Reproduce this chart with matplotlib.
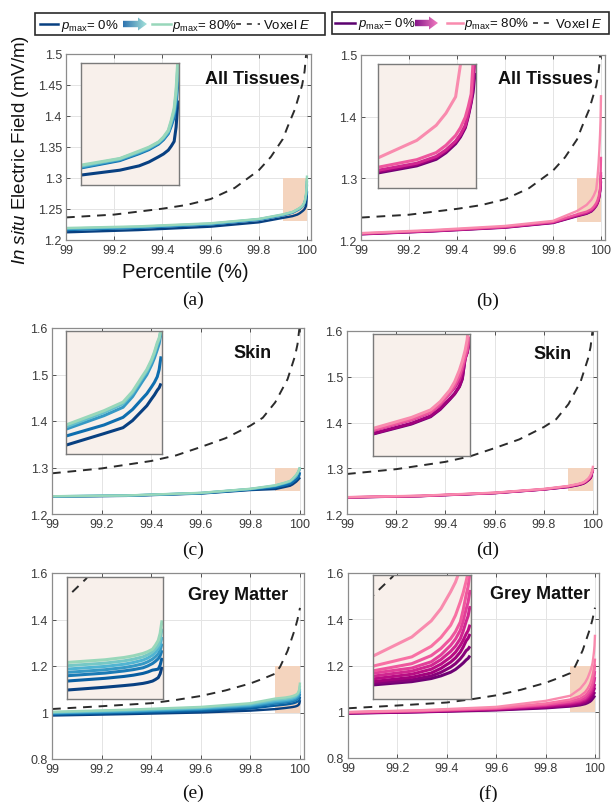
import numpy as np
import matplotlib
matplotlib.use('Agg')
import matplotlib.pyplot as plt
from matplotlib.patches import Rectangle, Polygon
from matplotlib.colors import LinearSegmentedColormap

plt.rcParams['font.family'] = ['Liberation Sans', 'DejaVu Sans']
plt.rcParams['mathtext.fontset'] = 'custom'
plt.rcParams['mathtext.rm'] = 'Liberation Sans'
plt.rcParams['mathtext.it'] = 'Liberation Sans:italic'

# ---------------- data ----------------
pct = [99.0, 99.3, 99.6, 99.8, 99.9, 99.94, 99.96, 99.97, 99.98, 99.985, 99.99, 99.993, 99.996, 99.998, 100.0]
voxel_pct = [99.0, 99.2, 99.4, 99.5, 99.6, 99.7, 99.8, 99.85, 99.9, 99.92, 99.95, 99.98, 99.99, 100.0]

voxel_all = [1.2364, 1.2410, 1.2505, 1.2565, 1.2660, 1.2840, 1.3125, 1.3340, 1.3630, 1.3830, 1.4110, 1.4500, 1.4720, 1.5150]
voxel_skin = [1.2875, 1.2980, 1.3140, 1.3260, 1.3440, 1.3630, 1.3900, 1.4070, 1.4400, 1.4600, 1.4900, 1.5400, 1.5650, 1.6100]
voxel_gm = [1.0150, 1.0270, 1.0400, 1.0540, 1.0710, 1.0950, 1.1250, 1.1450, 1.1670, 1.1970, 1.2650, 1.3600, 1.4000, 1.4500]

# series ordered p_max = 0% ... 80%
all_blue = [
    [1.2124, 1.2160, 1.2215, 1.2285, 1.2357, 1.2385, 1.2410, 1.2432, 1.2462, 1.2478, 1.2500, 1.2523, 1.2550, 1.2632, 1.2785],
    [1.2160, 1.2195, 1.2250, 1.2325, 1.2398, 1.2440, 1.2480, 1.2503, 1.2535, 1.2560, 1.2595, 1.2638, 1.2690, 1.2762, 1.2895],
    [1.2175, 1.2205, 1.2258, 1.2333, 1.2402, 1.2445, 1.2485, 1.2508, 1.2540, 1.2565, 1.2600, 1.2650, 1.2710, 1.2794, 1.2950],
    [1.2185, 1.2212, 1.2264, 1.2336, 1.2408, 1.2450, 1.2490, 1.2513, 1.2545, 1.2571, 1.2608, 1.2661, 1.2725, 1.2821, 1.3000],
    [1.2194, 1.2220, 1.2270, 1.2340, 1.2414, 1.2452, 1.2495, 1.2517, 1.2547, 1.2575, 1.2614, 1.2671, 1.2740, 1.2845, 1.3040],
]
all_pink = [
    [1.2092, 1.2140, 1.2200, 1.2275, 1.2385, 1.2425, 1.2462, 1.2499, 1.2550, 1.2588, 1.2640, 1.2703, 1.2780, 1.2840, 1.2950],
    [1.2095, 1.2143, 1.2204, 1.2280, 1.2392, 1.2432, 1.2470, 1.2507, 1.2558, 1.2596, 1.2648, 1.2712, 1.2790, 1.2881, 1.3050],
    [1.2099, 1.2147, 1.2208, 1.2286, 1.2400, 1.2440, 1.2478, 1.2515, 1.2565, 1.2603, 1.2655, 1.2720, 1.2800, 1.2905, 1.3100],
    [1.2105, 1.2153, 1.2215, 1.2295, 1.2417, 1.2460, 1.2500, 1.2541, 1.2597, 1.2640, 1.2700, 1.2759, 1.2830, 1.3012, 1.3350],
    [1.2112, 1.2162, 1.2228, 1.2310, 1.2470, 1.2569, 1.2654, 1.2722, 1.2815, 1.2998, 1.3250, 1.3453, 1.3700, 1.3928, 1.4350],
]
skin_blue = [
    [1.2375, 1.2390, 1.2440, 1.2515, 1.2536, 1.2583, 1.2607, 1.2636, 1.2676, 1.2696, 1.2724, 1.2740, 1.2759, 1.2769, 1.2787],
    [1.2378, 1.2393, 1.2445, 1.2525, 1.2573, 1.2618, 1.2649, 1.2681, 1.2724, 1.2745, 1.2773, 1.2791, 1.2814, 1.2843, 1.2897],
    [1.2380, 1.2396, 1.2450, 1.2535, 1.2601, 1.2656, 1.2690, 1.2733, 1.2793, 1.2822, 1.2862, 1.2890, 1.2924, 1.2948, 1.2993],
    [1.2381, 1.2397, 1.2452, 1.2538, 1.2610, 1.2669, 1.2704, 1.2747, 1.2807, 1.2836, 1.2876, 1.2907, 1.2945, 1.2966, 1.3004],
    [1.2382, 1.2398, 1.2455, 1.2542, 1.2618, 1.2676, 1.2711, 1.2754, 1.2814, 1.2843, 1.2883, 1.2914, 1.2952, 1.2971, 1.3007],
]
skin_pink = [
    [1.2360, 1.2390, 1.2455, 1.2535, 1.2590, 1.2631, 1.2661, 1.2691, 1.2732, 1.2754, 1.2784, 1.2815, 1.2905, 1.2924, 1.2960],
    [1.2362, 1.2392, 1.2457, 1.2537, 1.2592, 1.2634, 1.2664, 1.2694, 1.2735, 1.2756, 1.2786, 1.2820, 1.2900, 1.2923, 1.2965],
    [1.2364, 1.2394, 1.2460, 1.2540, 1.2604, 1.2648, 1.2678, 1.2711, 1.2757, 1.2780, 1.2811, 1.2851, 1.2900, 1.2926, 1.2975],
    [1.2366, 1.2396, 1.2462, 1.2543, 1.2606, 1.2650, 1.2680, 1.2714, 1.2760, 1.2789, 1.2830, 1.2866, 1.2910, 1.2938, 1.2990],
    [1.2369, 1.2400, 1.2466, 1.2548, 1.2613, 1.2658, 1.2689, 1.2723, 1.2770, 1.2804, 1.2852, 1.2889, 1.2934, 1.2976, 1.3055],
]
gm_blue = [
    [0.987, 0.993, 1.000, 1.008, 1.0147, 1.0193, 1.0220, 1.0235, 1.0256, 1.0272, 1.0294, 1.0319, 1.0350, 1.0413, 1.0529],
    [0.991, 0.998, 1.006, 1.017, 1.0294, 1.0339, 1.0370, 1.0391, 1.0420, 1.0443, 1.0474, 1.0481, 1.0490, 1.0555, 1.0676],
    [0.995, 1.002, 1.012, 1.024, 1.0381, 1.0425, 1.0460, 1.0482, 1.0512, 1.0542, 1.0583, 1.0618, 1.0660, 1.0709, 1.0800],
    [0.997, 1.004, 1.015, 1.028, 1.0436, 1.0480, 1.0515, 1.0541, 1.0578, 1.0610, 1.0654, 1.0693, 1.0740, 1.0800, 1.0910],
    [0.999, 1.007, 1.018, 1.032, 1.0490, 1.0534, 1.0570, 1.0599, 1.0638, 1.0672, 1.0720, 1.0765, 1.0820, 1.0890, 1.1019],
    [1.001, 1.010, 1.021, 1.036, 1.0545, 1.0588, 1.0625, 1.0653, 1.0692, 1.0726, 1.0774, 1.0822, 1.0880, 1.0976, 1.1155],
    [1.003, 1.012, 1.024, 1.040, 1.0599, 1.0643, 1.0680, 1.0708, 1.0747, 1.0776, 1.0817, 1.0881, 1.0960, 1.1076, 1.1290],
]
gm_pink = [
    [0.992, 0.998, 1.006, 1.015, 1.0227, 1.0280, 1.0330, 1.0373, 1.0432, 1.0477, 1.0540, 1.0581, 1.0630, 1.0655, 1.0700],
    [0.993, 0.999, 1.008, 1.018, 1.0254, 1.0310, 1.0370, 1.0430, 1.0514, 1.0571, 1.0649, 1.0708, 1.0780, 1.0805, 1.0850],
    [0.994, 1.000, 1.009, 1.020, 1.0281, 1.0350, 1.0420, 1.0494, 1.0595, 1.0663, 1.0757, 1.0839, 1.0940, 1.0979, 1.1050],
    [0.995, 1.001, 1.011, 1.023, 1.0324, 1.0400, 1.0480, 1.0562, 1.0676, 1.0755, 1.0865, 1.0948, 1.1050, 1.1103, 1.1200],
    [0.996, 1.002, 1.012, 1.026, 1.0368, 1.0450, 1.0540, 1.0636, 1.0768, 1.0854, 1.0973, 1.1098, 1.1250, 1.1338, 1.1500],
    [0.997, 1.003, 1.014, 1.029, 1.0416, 1.0500, 1.0600, 1.0711, 1.0865, 1.0967, 1.1108, 1.1262, 1.1450, 1.1559, 1.1760],
    [0.997, 1.004, 1.015, 1.031, 1.0454, 1.0570, 1.0700, 1.0815, 1.0973, 1.1086, 1.1243, 1.1440, 1.1680, 1.1810, 1.2050],
    [0.998, 1.005, 1.017, 1.036, 1.0530, 1.0680, 1.0850, 1.0993, 1.1190, 1.1349, 1.1568, 1.1717, 1.1900, 1.2040, 1.2300],
    [0.999, 1.007, 1.021, 1.047, 1.0692, 1.1000, 1.1260, 1.1457, 1.1730, 1.1885, 1.2100, 1.2325, 1.2600, 1.2856, 1.3330],
]

xticks = [99, 99.2, 99.4, 99.6, 99.8, 100]
xticklabels = ['99', '99.2', '99.4', '99.6', '99.8', '100']
yticks_a = [1.2, 1.25, 1.3, 1.35, 1.4, 1.45, 1.5]
yticks_b = [1.2, 1.3, 1.4, 1.5]
yticks_skin = [1.2, 1.3, 1.4, 1.5, 1.6]
yticks_gm = [0.8, 1.0, 1.2, 1.4, 1.6]

# ---------------- figure ----------------
W, H = 611, 803
fig = plt.figure(figsize=(W / 100, H / 100), dpi=100)


def fax(x0, y0, x1, y1):
    return [x0 / W, 1 - y1 / H, (x1 - x0) / W, (y1 - y0) / H]


blue_cmap = plt.get_cmap('GnBu')
pink_cmap = plt.get_cmap('RdPu')


def colors_for(cmap, n, hi, lo):
    return [cmap(v) for v in np.linspace(hi, lo, n)]


def ylab(v):
    return ('%.2f' % v).rstrip('0').rstrip('.')


def panel(main_box, inset_box, series, cols, voxel, yticks, ylim, zoom_y, title, title_px):
    ax = fig.add_axes(fax(*main_box))
    ax.set_xlim(99, 100.015)
    ax.set_ylim(*ylim)
    ax.set_xticks(xticks)
    ax.set_xticklabels(xticklabels)
    ax.set_yticks(yticks)
    ax.set_yticklabels([ylab(v) for v in yticks])
    ax.grid(True, color='#e4e4e4', lw=0.7)
    ax.set_axisbelow(True)
    ax.tick_params(direction='in', length=3, top=True, right=True, labelsize=9,
                   colors='#3a3a3a', width=0.6, pad=3)
    for s in ax.spines.values():
        s.set_color('#8c8c8c')
        s.set_linewidth(0.9)
    ax.add_patch(Rectangle((99.9, zoom_y[0]), 0.1, zoom_y[1] - zoom_y[0],
                           fc='#f4d4be', ec='none', zorder=1.5))
    for ser, c in zip(series, cols):
        ax.plot(pct, ser, color=c, lw=1.7, zorder=2, solid_capstyle='butt')
    ax.plot(voxel_pct, voxel, color='#2b2b2b', lw=1.4, ls=(0, (4.5, 3.5)), zorder=2.5)
    x0, y0, w, h = ax.get_position().bounds
    tpos = ((title_px[0] / W - x0) / w, ((1 - title_px[1] / H) - y0) / h)
    ax.text(tpos[0], tpos[1], title, transform=ax.transAxes, ha='right', va='center',
            fontsize=13, fontweight='bold', color='#111111', zorder=1.8)

    ins = fig.add_axes(fax(*inset_box))
    ins.set_facecolor('#f8f0eb')
    ins.set_xlim(99.9, 100.001)
    ins.set_ylim(*zoom_y)
    ins.set_xticks([])
    ins.set_yticks([])
    for s in ins.spines.values():
        s.set_color('#7a7a7a')
        s.set_linewidth(1.0)
    for ser, c in zip(series, cols):
        ins.plot(pct, ser, color=c, lw=2.2, solid_capstyle='butt', solid_joinstyle='round')
    ins.plot(voxel_pct, voxel, color='#2b2b2b', lw=1.4, ls=(0, (4.5, 3.5)))
    return ax


panel((66, 55, 310.6, 241), (81, 64, 179, 186), all_blue,
      colors_for(blue_cmap, 5, 1.0, 0.42), voxel_all, yticks_a, (1.2, 1.5),
      (1.23, 1.30), 'All Tissues', (300, 79))
panel((361, 56, 604.6, 241), (378, 65, 476, 189), all_pink,
      colors_for(pink_cmap, 5, 0.9, 0.42), voxel_all, yticks_b, (1.2, 1.5),
      (1.23, 1.30), 'All Tissues', (593, 79))
panel((52, 329, 303.7, 515), (66, 332, 162, 455), skin_blue,
      colors_for(blue_cmap, 5, 1.0, 0.42), voxel_skin, yticks_skin, (1.2, 1.6),
      (1.25, 1.30), 'Skin', (272, 354))
panel((347, 332, 596.7, 515), (373, 335, 470, 457), skin_pink,
      colors_for(pink_cmap, 5, 0.9, 0.42), voxel_skin, yticks_skin, (1.2, 1.6),
      (1.25, 1.30), 'Skin', (572, 355))
panel((52, 574, 303.7, 760), (67, 578, 163, 700), gm_blue,
      colors_for(blue_cmap, 7, 1.0, 0.42), voxel_gm, yticks_gm, (0.8, 1.6),
      (1.0, 1.2), 'Grey Matter', (288, 596))
panel((348, 574, 598.7, 759), (373, 576, 471, 700), gm_pink,
      colors_for(pink_cmap, 9, 0.9, 0.42), voxel_gm, yticks_gm, (0.8, 1.6),
      (1.0, 1.2), 'Grey Matter', (590, 595))

# labels
fig.text(185 / W, 1 - 273 / H, 'Percentile (%)', ha='center', va='center', fontsize=14.5, color='#111111')
fig.text(21 / W, 1 - 150 / H, r'$\it{In\ situ}$ Electric Field (mV/m)', rotation=90,
         ha='center', va='center', fontsize=13.5, color='#111111')
for lab, px, py in [('(a)', 193, 300), ('(b)', 488, 301), ('(c)', 193, 550),
                    ('(d)', 488, 550), ('(e)', 193, 793), ('(f)', 488, 794)]:
    fig.text(px / W, 1 - py / H, lab, ha='center', va='center', fontsize=14,
             family=['Liberation Serif', 'DejaVu Serif'], color='#111111')

# ---------------- legends ----------------
lg = fig.add_axes([0, 0, 1, 1])
lg.axis('off')


def gradient_arrow(x0, x1, yc, c0, c1):
    cm_ = LinearSegmentedColormap.from_list('g', [c0, c1])
    grad = np.linspace(0, 1, 64).reshape(1, -1)
    im = lg.imshow(grad, extent=(x0, x1, yc + 7, yc - 7), cmap=cm_, aspect='auto',
                   interpolation='bilinear', zorder=3)
    hl = 9
    poly = Polygon([(x0, yc - 3.2), (x1 - hl, yc - 3.2), (x1 - hl, yc - 6.5), (x1, yc),
                    (x1 - hl, yc + 6.5), (x1 - hl, yc + 3.2), (x0, yc + 3.2)],
                   closed=True, fc='none', ec='none', transform=lg.transData)
    lg.add_patch(poly)
    im.set_clip_path(poly)


def legend_box(x0, x1, y0, y1, c_lo, c_hi, a0, a1, xs):
    yc = (y0 + y1) / 2
    lg.add_patch(Rectangle((x0, y0), x1 - x0, y1 - y0, fill=False, ec='#2a2a2a', lw=1.2, zorder=2))
    lg.plot([xs[0], xs[1]], [yc, yc], color=c_lo, lw=1.8, zorder=3)
    lg.text(xs[1] + 3, yc + 0.5, r'$p_{\rm max}$= 0%', ha='left', va='center', fontsize=9.5, color='#111111')
    gradient_arrow(xs[2], xs[3], yc, a0, a1)
    lg.plot([xs[4], xs[5]], [yc, yc], color=c_hi, lw=1.8, zorder=3)
    lg.text(xs[5] + 1, yc + 0.5, r'$p_{\rm max}$= 80%', ha='left', va='center', fontsize=9.5, color='#111111')
    lg.plot([xs[6], xs[7]], [yc, yc], color='#333333', lw=1.2, ls=(0, (3, 3.5)), zorder=3)
    lg.text(xs[7] + 3, yc + 0.5, r'Voxel $E$', ha='left', va='center', fontsize=9.5, color='#111111')


legend_box(35, 325, 14, 36, blue_cmap(1.0), blue_cmap(0.42), '#2f74b0', '#a5e3da',
           [40, 58, 123, 147, 152, 171, 236, 260])
legend_box(332, 609, 13, 35, pink_cmap(0.95), pink_cmap(0.42), '#87168a', '#f27cc0',
           [335, 355, 415, 438, 447, 463, 533, 552])

lg.set_xlim(0, W)
lg.set_ylim(H, 0)

fig.savefig('out.png', dpi=100)
